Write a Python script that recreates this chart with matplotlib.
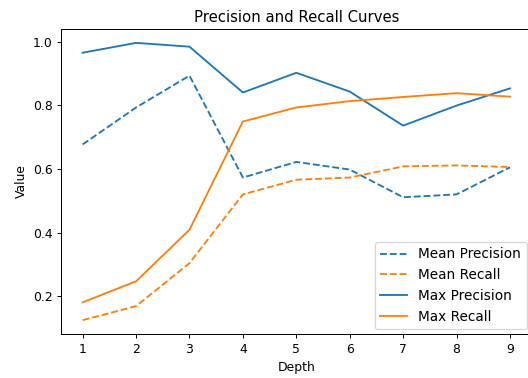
import matplotlib
matplotlib.use("Agg")
import matplotlib.pyplot as plt

depths = [1, 2, 3, 4, 5, 6, 7, 8, 9]
mean_precision = [0.677, 0.793, 0.893, 0.573, 0.622, 0.598, 0.511, 0.520, 0.605]
mean_recall = [0.125, 0.169, 0.304, 0.520, 0.566, 0.573, 0.608, 0.611, 0.606]
max_precision = [0.965, 0.996, 0.984, 0.840, 0.902, 0.843, 0.736, 0.799, 0.853]
max_recall = [0.181, 0.247, 0.409, 0.749, 0.793, 0.813, 0.826, 0.838, 0.827]

dpi = 89
fig = plt.figure(figsize=(528 / dpi, 378 / dpi), dpi=dpi)
# axes box runs slightly past the right edge of the picture
ax = fig.add_axes([61.3 / 528, 44 / 378, 470 / 528, 305 / 378])
ax.plot(depths, mean_precision, "--", color="C0", label="Mean Precision")
ax.plot(depths, mean_recall, "--", color="C1", label="Mean Recall")
ax.plot(depths, max_precision, "-", color="C0", label="Max Precision")
ax.plot(depths, max_recall, "-", color="C1", label="Max Recall")

ax.set_xticks(depths)
ax.set_xlabel("Depth")
ax.set_ylabel("Value")
ax.set_title("Precision and Recall Curves")
ax.legend(loc="lower right", fontsize=11, borderaxespad=0.35)

fig.savefig("out.png", dpi=dpi)
